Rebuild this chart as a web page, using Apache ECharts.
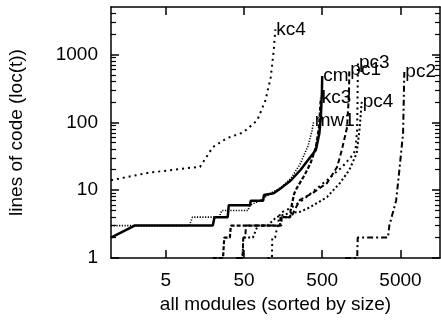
<!DOCTYPE html>
<html>
<head>
<meta charset="utf-8">
<script src="https://cdn.jsdelivr.net/npm/echarts@6.0.0/dist/echarts.min.js"></script>
<style>
  html, body { margin: 0; padding: 0; background: #fff; }
  #chart { width: 441px; height: 324px; }
</style>
</head>
<body>
<div id="chart"></div>
<script>
// tick labels
const X_TICKS = [5, 50, 500, 5000];
const Y_TICKS = [1, 10, 100, 1000];

// series: [rank, loc]
const kc4 = [[1, 14], [3, 18], [9, 21], [13.7, 22], [20, 43], [30, 58], [49, 71], [74, 107],
  [94, 210], [110, 460], [120, 1140], [126, 2340]];
const cm = [[1, 2], [2, 3], [20, 3], [21, 4], [31, 4], [32, 6], [60, 6], [61, 7], [88, 7],
  [90, 8.5], [120, 9], [148, 10.7], [200, 14], [265, 20], [355, 31], [415, 39], [460, 69],
  [480, 118], [495, 265], [500, 480]];
const mw1 = [[1, 3], [10, 3], [11, 4], [24, 4], [26, 5], [56, 5], [60, 6], [80, 7], [110, 9],
  [150, 11], [200, 15], [260, 24], [330, 45], [370, 75], [390, 105]];
const kc3 = [[20, 1], [27, 1], [28, 2], [33, 2], [34, 3], [145, 3], [147, 4], [195, 4], [197, 5],
  [220, 9], [240, 11], [300, 17], [355, 25], [415, 43], [455, 85], [480, 230]];
const pc1 = [[40, 1], [48, 1], [49, 2], [52, 2], [53, 3], [150, 3], [152, 4], [200, 4],
  [260, 7.2], [380, 9.1], [575, 12.7], [775, 22], [890, 39], [1040, 85], [1100, 270], [1110, 600]];
const pc3 = [[100, 1], [114, 1], [115, 2], [125, 2], [145, 4.6], [200, 5.5], [285, 7.2],
  [400, 10], [575, 14], [900, 22], [1200, 32], [1330, 39], [1400, 80], [1430, 760]];
const pc4 = [[40, 1], [48, 1], [49, 2], [65, 2], [75, 3], [100, 3], [130, 4], [180, 4.5],
  [260, 4.8], [350, 5.6], [575, 7.9], [840, 12.7], [1110, 19.8], [1380, 35], [1510, 85], [1600, 200]];
const pc2 = [[980, 1], [1400, 1], [1420, 2], [3460, 2], [3600, 3], [4400, 7], [4800, 18],
  [5400, 69], [5600, 550]];

const FONT = 'Liberation Sans, Arial, sans-serif';
const BLACK = '#000';

// side: 0 = bottom/left axes, 1 = top/right axes (same scale, keeps mirror axes live)
const SERIES = [
  { name: 'kc4', data: kc4, width: 2, dash: [2, 4], side: 1 },
  { name: 'mw1', data: mw1, width: 1.6, dash: [1.2, 1.5], side: 0 },
  { name: 'kc3', data: kc3, width: 2.2, dash: [4, 2], side: 0 },
  { name: 'pc1', data: pc1, width: 2, dash: [5, 3], side: 0 },
  { name: 'pc4', data: pc4, width: 2, dash: [2, 2.5], side: 0 },
  { name: 'pc3', data: pc3, width: 2, dash: [2, 3.5], side: 0 },
  { name: 'pc2', data: pc2, width: 2, dash: [6, 3, 2, 3], side: 1 },
  { name: 'cm', data: cm, width: 2.5, dash: 'solid', side: 0 }
];

const plain = v => String(v);
const textStyle = { fontSize: 19, color: BLACK, fontFamily: FONT };

const xBase = {
  type: 'log', min: 1, max: 16000,
  axisLine: { show: true, onZero: false, lineStyle: { color: BLACK, width: 1.5 } },
  axisTick: { show: true, inside: true, length: 8, customValues: X_TICKS, lineStyle: { color: BLACK, width: 1.5 } },
  splitLine: { show: false }
};

const yBase = {
  type: 'log', min: 1, max: 5000,
  axisLine: { show: true, onZero: false, lineStyle: { color: BLACK, width: 1.5 } },
  axisTick: { show: true, inside: true, length: 8, customValues: Y_TICKS, lineStyle: { color: BLACK, width: 1.5 } },
  minorTick: { show: true, splitNumber: 9, length: 5, lineStyle: { color: BLACK, width: 1.2 } },
  splitLine: { show: false }
};

const option = {
  animation: false,
  backgroundColor: '#fff',
  grid: { left: 111, right: 1, top: 7, bottom: 66, outerBoundsMode: 'none' },
  xAxis: [
    Object.assign({}, xBase, {
      position: 'bottom',
      axisLabel: Object.assign({ customValues: X_TICKS, formatter: plain, margin: 13 }, textStyle),
      name: 'all modules (sorted by size)', nameLocation: 'middle', nameGap: 33,
      nameTextStyle: textStyle
    }),
    Object.assign({}, xBase, { position: 'top', axisLabel: { show: false } })
  ],
  yAxis: [
    Object.assign({}, yBase, {
      position: 'left',
      axisLabel: Object.assign({ customValues: Y_TICKS, formatter: plain, margin: 13 }, textStyle),
      name: 'lines of code (loc(t))', nameLocation: 'middle', nameGap: 85,
      nameTextStyle: textStyle
    }),
    Object.assign({}, yBase, { position: 'right', axisLabel: { show: false } })
  ],
  series: SERIES.map(s => ({
    name: s.name,
    type: 'line',
    xAxisIndex: s.side,
    yAxisIndex: s.side,
    data: s.data,
    showSymbol: false,
    clip: true,
    lineStyle: { color: BLACK, width: s.width, type: s.dash, cap: 'butt' },
    endLabel: Object.assign({ show: true, formatter: '{a}', distance: 1 }, textStyle),
    emphasis: { disabled: true }
  }))
};

const chart = echarts.init(document.getElementById('chart'));
chart.setOption(option);
</script>
</body>
</html>
